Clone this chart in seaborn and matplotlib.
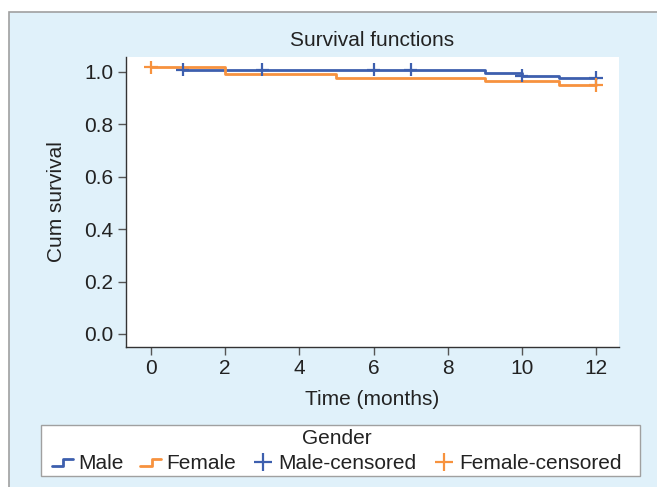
import numpy as np
import pandas as pd
import matplotlib
matplotlib.use("Agg")
import matplotlib.pyplot as plt
import seaborn as sns
from matplotlib.lines import Line2D
from matplotlib.legend_handler import HandlerBase
from matplotlib.patches import Rectangle

# ---- data ----
male_time = [0.85, 9, 10, 11, 12]
male_surv = [1.009, 0.996, 0.986, 0.978, 0.978]
female_time = [0, 2, 5, 9, 11, 12]
female_surv = [1.017, 0.991, 0.978, 0.964, 0.950, 0.950]
male_cens_time = [0.85, 3, 6, 7, 10, 12]
male_cens_surv = [1.009, 1.009, 1.009, 1.009, 0.986, 0.978]
female_cens_time = [0, 12]
female_cens_surv = [1.017, 0.950]
x_ticks = [0, 2, 4, 6, 8, 10, 12]
y_ticks = [0.0, 0.2, 0.4, 0.6, 0.8, 1.0]

BLUE = "#3d5fae"
ORANGE = "#f7923e"
PANEL = "#e0f1fa"

sns.set_style("white")
plt.rcParams['font.family'] = ['Liberation Sans', 'DejaVu Sans']
FS = 15

W, H = 657, 487
fig = plt.figure(figsize=(W / 100, H / 100), dpi=100)
fig.patch.set_facecolor("white")

# background panel
bg = fig.add_axes([0, 0, 1, 1], zorder=-10)
bg.set_axis_off()
bg.set_xlim(0, W)
bg.set_ylim(H, 0)
bg.add_patch(Rectangle((9, 12), W, H, facecolor=PANEL, edgecolor="#a0a0a0", linewidth=1.2))
# legend box
bg.add_patch(Rectangle((41, 425), 599, 51, facecolor="white", edgecolor="#a0a0a0", linewidth=1.0))

ax = fig.add_axes([126 / W, 1 - 347 / H, (619 - 126) / W, (347 - 57) / H], zorder=1)
ax.set_facecolor("white")

curves = pd.concat([
    pd.DataFrame({"time": male_time, "surv": male_surv, "Gender": "Male"}),
    pd.DataFrame({"time": female_time, "surv": female_surv, "Gender": "Female"}),
])
cens = pd.concat([
    pd.DataFrame({"time": male_cens_time, "surv": male_cens_surv, "Gender": "Male"}),
    pd.DataFrame({"time": female_cens_time, "surv": female_cens_surv, "Gender": "Female"}),
])
pal = {"Male": BLUE, "Female": ORANGE}

sns.lineplot(data=curves, x="time", y="surv", hue="Gender", palette=pal, estimator=None,
             sort=False, drawstyle="steps-post", linewidth=2.0, ax=ax, legend=False)
sns.scatterplot(data=cens, x="time", y="surv", hue="Gender", palette=pal, marker="+",
                s=90, linewidth=1.6, ax=ax, legend=False, zorder=3)

ax.set_xlim(-0.675, 12.62)
ax.set_ylim(-0.05, 1.057)
ax.set_xticks(x_ticks)
ax.set_yticks(y_ticks)
ax.set_yticklabels([f"{v:.1f}" for v in y_ticks])
for s in ["top", "right"]:
    ax.spines[s].set_visible(False)
for s in ["left", "bottom"]:
    ax.spines[s].set_color("#333333")
    ax.spines[s].set_linewidth(1.0)
ax.tick_params(axis="both", which="both", direction="out", length=6, width=1.0,
               color="#555555", labelsize=FS, labelcolor="#222222", pad=3)
ax.tick_params(axis="y", left=True)
ax.tick_params(axis="x", bottom=True)
ax.set_xlabel("Time (months)", fontsize=FS, color="#222222", labelpad=8)
ax.set_ylabel("Cum survival", fontsize=FS, color="#222222", labelpad=13)
ax.set_title("Survival functions", fontsize=FS, color="#222222", pad=8)


class StepHandler(HandlerBase):
    def create_artists(self, legend, orig_handle, xdescent, ydescent, width, height, fontsize, trans):
        x0, x1 = -xdescent, -xdescent + width
        yl, yh = -ydescent + height * 0.2, -ydescent + height * 0.7
        xm = x0 + width * 0.55
        ln = Line2D([x0, xm, xm, x1], [yl, yl, yh, yh], color=orig_handle.get_color(),
                    linewidth=2.0, transform=trans)
        return [ln]


h_male = Line2D([], [], color=BLUE)
h_female = Line2D([], [], color=ORANGE)
h_mc = Line2D([], [], color=BLUE, marker="+", linestyle="none", markersize=13, markeredgewidth=1.6)
h_fc = Line2D([], [], color=ORANGE, marker="+", linestyle="none", markersize=13, markeredgewidth=1.6)

leg = fig.legend([h_male, h_female, h_mc, h_fc],
                 ["Male", "Female", "Male-censored", "Female-censored"],
                 handler_map={h_male: StepHandler(), h_female: StepHandler()},
                 title="Gender", ncol=4, loc="center",
                 bbox_to_anchor=(337 / W, 1 - 451 / H),
                 fontsize=FS, title_fontsize=FS, frameon=False,
                 handlelength=1.0, handletextpad=0.25, columnspacing=0.8, borderpad=0.1,
                 labelspacing=0.3)
for t in leg.get_texts():
    t.set_color("#222222")
leg.get_title().set_color("#222222")

fig.savefig("out.png", dpi=100)
